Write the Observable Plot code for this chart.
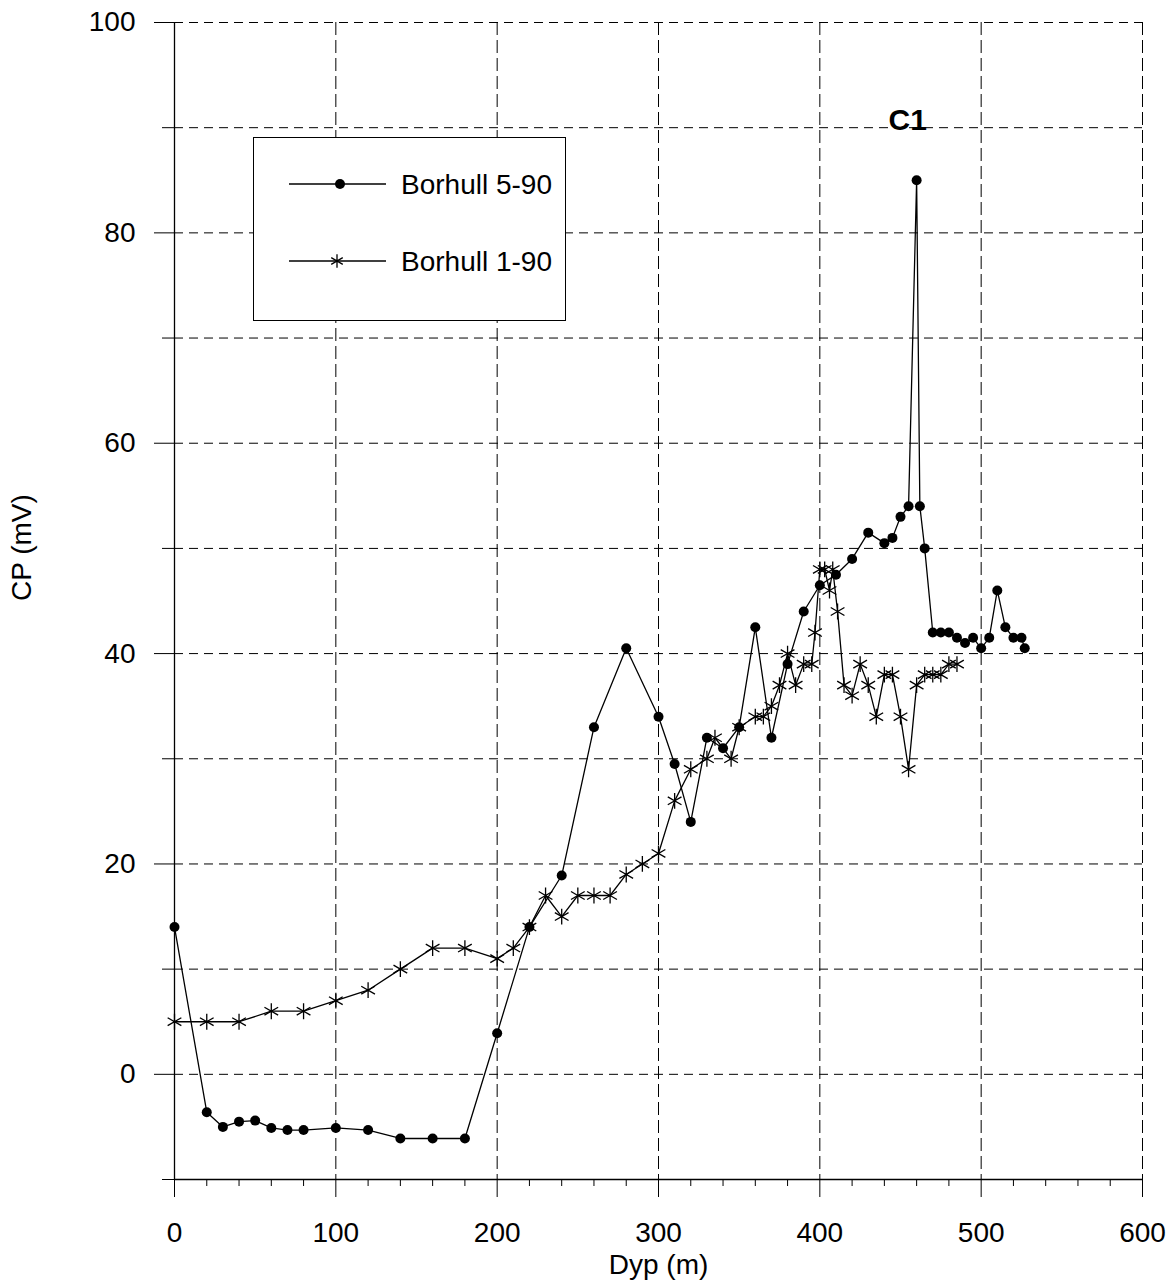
<!DOCTYPE html>
<html>
<head>
<meta charset="utf-8">
<script src="https://cdn.jsdelivr.net/npm/d3@7"></script>
<script src="https://cdn.jsdelivr.net/npm/@observablehq/plot@0.6"></script>
<style>
  body { margin: 0; background: #fff; font-family: "Liberation Sans", Arial, sans-serif; }
  #wrap { position: relative; width: 1172px; height: 1287px; }
  #legend { position: absolute; left: 253px; top: 137px; width: 311px; height: 182px;
            border: 1.5px solid #000; background: #fff; }
  #legend svg { display: block; }
</style>
</head>
<body>
<div id="wrap"></div>
<script>
// Borehole 5-90: self-potential (CP, mV) against depth (m)
const depth590 = [0, 20, 30, 40, 50, 60, 70, 80, 100, 120, 140, 160, 180, 200, 220, 240, 260, 280, 300, 310,
  320, 330, 340, 350, 360, 370, 380, 390, 400, 410, 420, 430, 440, 445, 450, 455, 460, 462, 465, 470,
  475, 480, 485, 490, 495, 500, 505, 510, 515, 520, 525, 527];
const cp590 = [14, -3.6, -5, -4.5, -4.4, -5.1, -5.3, -5.3, -5.1, -5.3, -6.1, -6.1, -6.1, 3.9, 14, 18.9, 33, 40.5, 34, 29.5,
  24, 32, 31, 33, 42.5, 32, 39, 44, 46.5, 47.5, 49, 51.5, 50.5, 51, 53, 54, 85, 54, 50, 42,
  42, 42, 41.5, 41, 41.5, 40.5, 41.5, 46, 42.5, 41.5, 41.5, 40.5];

// Borehole 1-90
const depth190 = [0, 20, 40, 60, 80, 100, 120, 140, 160, 180, 200, 210, 220, 230, 240, 250, 260, 270, 280, 290,
  300, 310, 320, 330, 335, 345, 350, 360, 365, 370, 375, 380, 385, 390, 395, 397, 400, 403, 406, 408,
  411, 415, 420, 425, 430, 435, 440, 445, 450, 455, 460, 465, 470, 475, 480, 485];
const cp190 = [5, 5, 5, 6, 6, 7, 8, 10, 12, 12, 11, 12, 14, 17, 15, 17, 17, 17, 19, 20,
  21, 26, 29, 30, 32, 30, 33, 34, 34, 35, 37, 40, 37, 39, 39, 42, 48, 48, 46, 48,
  44, 37, 36, 39, 37, 34, 38, 38, 34, 29, 37, 38, 38, 38, 39, 39];

const seriesNames = ["Borhull 5-90", "Borhull 1-90"];
const peakLabel = "C1";

const xTicks = [0, 100, 200, 300, 400, 500, 600];
const xMinorTicks = [20, 40, 60, 80, 120, 140, 160, 180, 220, 240, 260, 280, 320, 340, 360, 380,
  420, 440, 460, 480, 520, 540, 560, 580];
const yTicks = [0, 20, 40, 60, 80, 100];
const yMinorTicks = [-10, 10, 30, 50, 70, 90];
const yGrid = [0, 10, 20, 30, 40, 50, 60, 70, 80, 90, 100];
const xGrid = [100, 200, 300, 400, 500, 600];

const s590 = depth590.map((d, i) => ({depth: d, cp: cp590[i]}));
const s190 = depth190.map((d, i) => ({depth: d, cp: cp190[i]}));
const peak = s590.reduce((a, b) => (b.cp > a.cp ? b : a));

const chart = Plot.plot({
  width: 1172,
  height: 1287,
  marginLeft: 174,
  marginRight: 30,
  marginTop: 22,
  marginBottom: 108,
  style: {fontFamily: "'Liberation Sans', Arial, sans-serif", background: "#fff", color: "#000", overflow: "visible"},
  x: {domain: [0, 600]},
  y: {domain: [-10, 100]},
  marks: [
    // dashed grid
    Plot.ruleY(yGrid, {stroke: "#000", strokeWidth: 1, strokeDasharray: "9,6"}),
    Plot.ruleX(xGrid, {stroke: "#000", strokeWidth: 1, strokeDasharray: "13,5"}),
    // solid axis lines
    Plot.ruleX([0], {stroke: "#000", strokeWidth: 1.3}),
    Plot.ruleY([-10], {stroke: "#000", strokeWidth: 1.3}),
    // ticks and labels
    Plot.axisY(yTicks, {tickSize: 20, tickPadding: 19, fontSize: 28, label: null, stroke: "#000"}),
    Plot.axisY(yMinorTicks, {tickSize: 12, tickFormat: () => "", label: null, stroke: "#000"}),
    Plot.axisX(xTicks, {tickSize: 18, tickPadding: 25, fontSize: 28, label: null, stroke: "#000"}),
    Plot.axisX(xMinorTicks, {tickSize: 7, tickFormat: () => "", label: null, stroke: "#000"}),
    // series
    Plot.line(s190, {x: "depth", y: "cp", stroke: "#000", strokeWidth: 1.3}),
    Plot.line(s590, {x: "depth", y: "cp", stroke: "#000", strokeWidth: 1.3}),
    Plot.dot(s190, {x: "depth", y: "cp", symbol: "asterisk", r: 7.5, stroke: "#000", strokeWidth: 1.3}),
    Plot.dot(s590, {x: "depth", y: "cp", r: 5, fill: "#000", stroke: "none"}),
    // peak annotation
    Plot.text([peak], {x: "depth", y: "cp", text: () => peakLabel, dx: -9, dy: -60,
      fontSize: 30, fontWeight: "bold", lineAnchor: "middle"}),
    // axis titles
    Plot.text(["Dyp (m)"], {frameAnchor: "bottom", dy: 86, fontSize: 28, lineAnchor: "middle"}),
    Plot.text(["CP (mV)"], {frameAnchor: "left", dx: -152, rotate: -90, fontSize: 28, lineAnchor: "middle"})
  ]
});

const wrap = document.getElementById("wrap");
wrap.appendChild(chart);

// legend box drawn over the plot area
const legend = d3.select(wrap).append("div").attr("id", "legend");
const lsvg = legend.append("svg").attr("width", 311).attr("height", 182);
const items = [
  {name: seriesNames[0], y: 46, symbol: "dot"},
  {name: seriesNames[1], y: 123, symbol: "asterisk"}
];
const g = lsvg.selectAll("g").data(items).join("g").attr("transform", d => `translate(0,${d.y})`);
g.append("line").attr("x1", 35).attr("x2", 132).attr("stroke", "#000").attr("stroke-width", 1.3);
g.filter(d => d.symbol === "dot").append("circle").attr("cx", 86).attr("r", 5).attr("fill", "#000");
g.filter(d => d.symbol === "asterisk").append("path")
  .attr("transform", "translate(83,0)")
  .attr("d", d3.symbol(d3.symbolAsterisk, Math.PI * 40)())
  .attr("fill", "none").attr("stroke", "#000").attr("stroke-width", 1.3);
g.append("text").attr("x", 147).attr("dy", "0.35em").attr("font-size", 28)
  .attr("font-family", "'Liberation Sans', Arial, sans-serif").text(d => d.name);
</script>
</body>
</html>
